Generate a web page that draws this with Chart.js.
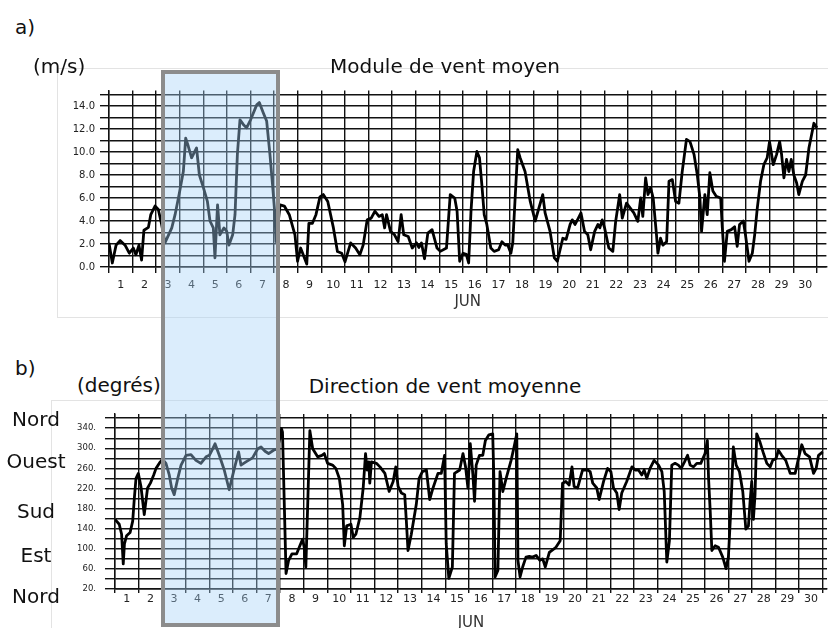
<!DOCTYPE html>
<html>
<head>
<meta charset="utf-8">
<script src="https://cdn.jsdelivr.net/npm/chart.js@4"></script>
<style>
  body { margin: 0; background: #fff; width: 828px; height: 628px; position: relative; overflow: hidden;
         font-family: "DejaVu Sans", sans-serif; color: #111; }
  .txt { position: absolute; font-size: 20px; line-height: 20px; white-space: nowrap; }
  .ctr { transform: translateX(-50%); }
  .frame { position: absolute; border: 1px solid #e3e3e3; border-right: none; }
  canvas { position: absolute; }
  #highlight { position: absolute; box-sizing: border-box; border: 4.5px solid #8c8c8c;
               background: rgba(165, 210, 248, 0.4); }
</style>
</head>
<body>
<div class="frame" style="left:57px; top:68px; width:771px; height:248px;"></div>
<div class="frame" style="left:51px; top:400px; width:777px; height:240px;"></div>

<canvas id="speed-chart" width="771" height="248" style="left:57px; top:68px;"></canvas>
<canvas id="dir-chart" width="777" height="233" style="left:51px; top:400px;"></canvas>

<div class="txt" style="left:15px; top:17px;">a)</div>
<div class="txt" style="left:33px; top:56px;">(m/s)</div>
<div class="txt ctr" style="left:445px; top:56px;">Module de vent moyen</div>

<div class="txt" style="left:15px; top:358px;">b)</div>
<div class="txt" style="left:77px; top:375px;">(degrés)</div>
<div class="txt ctr" style="left:445px; top:376px;">Direction de vent moyenne</div>

<div class="txt ctr" style="left:36px; top:409px;">Nord</div>
<div class="txt ctr" style="left:36px; top:451px;">Ouest</div>
<div class="txt ctr" style="left:36px; top:501px;">Sud</div>
<div class="txt ctr" style="left:36px; top:545px;">Est</div>
<div class="txt ctr" style="left:36px; top:586px;">Nord</div>

<div id="highlight"></div>

<script>
// a) wind speed (m/s), time in days since 1 June 00h
const speedDays = [0, 0.14, 0.3, 0.47, 0.68, 0.86, 1.03, 1.14, 1.27, 1.38, 1.48, 1.67, 1.77, 1.95, 2.09, 2.23, 2.37,
    2.66, 2.8, 2.97, 3.15, 3.25, 3.36, 3.5, 3.71, 3.83, 4.0, 4.17, 4.28, 4.42, 4.49, 4.6, 4.7, 4.87, 4.99,
    5.08, 5.24, 5.34, 5.44, 5.55, 5.69, 5.83, 6.0, 6.26, 6.37, 6.54, 6.68, 6.82, 6.94, 7.03, 7.08, 7.25,
    7.43, 7.64, 7.88, 7.99, 8.12, 8.23, 8.38, 8.47, 8.62, 8.77, 8.94, 9.08, 9.27, 9.51, 9.68, 9.86, 10.0,
    10.24, 10.45, 10.63, 10.77, 10.94, 11.11, 11.27, 11.44, 11.58, 11.68, 11.76, 11.93, 12.1, 12.25, 12.38,
    12.49, 12.68, 12.85, 13.03, 13.13, 13.24, 13.37, 13.51, 13.69, 13.9, 14.04, 14.3, 14.46, 14.65, 14.75,
    14.86, 15.0, 15.14, 15.24, 15.34, 15.45, 15.59, 15.7, 15.8, 15.9, 16.01, 16.18, 16.32, 16.51, 16.65,
    16.79, 16.9, 17.03, 17.11, 17.21, 17.32, 17.42, 17.63, 17.85, 18.06, 18.38, 18.48, 18.69, 18.87, 19.0,
    19.23, 19.37, 19.54, 19.63, 19.75, 19.89, 20.0, 20.15, 20.29, 20.41, 20.58, 20.72, 20.8, 20.9, 21.0,
    21.18, 21.35, 21.47, 21.64, 21.75, 21.93, 22.24, 22.41, 22.53, 22.62, 22.74, 22.84, 22.95, 23.06, 23.2,
    23.26, 23.37, 23.47, 23.63, 23.73, 23.87, 24.01, 24.15, 24.29, 24.47, 24.62, 24.79, 24.93, 25.04, 25.11,
    25.25, 25.35, 25.46, 25.59, 25.73, 25.92, 25.99, 26.08, 26.2, 26.37, 26.51, 26.62, 26.72, 26.88, 26.97,
    27.12, 27.26, 27.36, 27.47, 27.61, 27.75, 27.89, 27.99, 28.15, 28.29, 28.42, 28.5, 28.6, 28.71, 28.81,
    28.91, 29.02, 29.14, 29.23, 29.38, 29.52, 29.66, 29.87, 30.0];
const speedValues = [2.1, 0.35, 1.9, 2.3, 1.9, 1.2, 1.65, 1.07, 1.9, 0.6, 3.2, 3.45, 4.55, 5.3, 5.0, 3.7, 2.1,
    3.4, 4.55, 6.3, 8.3, 11.2, 10.5, 9.5, 10.35, 8.0, 6.9, 5.7, 4.0, 3.4, 0.8, 5.4, 2.8, 3.4, 3.1,
    1.9, 2.8, 4.55, 9.8, 12.8, 12.4, 12.1, 12.8, 14.1, 14.3, 13.4, 12.7, 9.8, 6.9, 4.55, 2.2, 5.4,
    5.3, 4.55, 2.8, 0.5, 1.65, 1.07, 0.25, 3.8, 3.8, 4.55, 6.1, 6.3, 5.7, 3.4, 1.35, 1.2, 0.45,
    2.1, 1.65, 1.07, 1.9, 4.1, 4.25, 4.85, 4.4, 4.55, 3.4, 4.55, 3.1, 2.8, 2.2, 4.55,
    2.8, 2.65, 1.65, 2.1, 1.7, 2.1, 0.72, 2.95, 3.25, 1.65, 1.36, 1.65, 6.3, 6.0, 4.85,
    0.5, 1.2, 1.1, 0.35, 4.85, 8.3, 10.05, 9.5, 7.15, 4.55, 3.7, 1.65, 1.36, 1.5, 2.2,
    1.9, 1.9, 1.2, 2.1, 6.0, 10.2, 9.5, 8.3, 5.7, 4.0, 6.3, 4.7, 3.1, 0.8, 0.5,
    2.5, 2.4, 3.7, 4.1, 3.7, 4.25, 4.7, 3.1, 2.8, 1.5, 3.1, 3.7, 3.4, 4.1, 3.4,
    1.65, 1.36, 3.97, 6.3, 4.25, 5.55, 4.7, 3.97, 6.0, 4.4, 7.75, 6.3, 6.9, 6.0, 2.8,
    1.2, 2.5, 1.9, 2.2, 7.45, 7.6, 5.7, 5.55, 8.3, 11.1, 10.9, 9.8, 8.0, 6.0, 3.1,
    6.3, 4.55, 8.2, 6.6, 6.15, 6.0, 3.4, 0.5, 3.1, 3.25, 3.5, 1.8, 3.7, 4.0, 2.8,
    0.5, 1.2, 2.8, 5.1, 7.45, 8.9, 9.5, 10.9, 8.9, 9.8, 10.9, 9.8, 7.75, 9.35, 8.3,
    9.35, 8.0, 7.3, 6.3, 7.45, 8.0, 10.35, 12.5, 12.1];

// b) wind direction (degrees)
const dirDays = [0, 0.18, 0.28, 0.35, 0.4, 0.49, 0.64, 0.75, 0.82, 0.89, 0.99, 1.1, 1.24, 1.38, 1.5, 1.64, 1.74,
    1.92, 2.02, 2.16, 2.3, 2.4, 2.51, 2.66, 2.8, 3.01, 3.22, 3.43, 3.64, 3.86, 4.0, 4.14, 4.24, 4.42, 4.63,
    4.84, 5.06, 5.24, 5.34, 5.55, 5.83, 6.05, 6.19, 6.36, 6.51, 6.72, 6.89, 6.96, 7.06, 7.1, 7.18, 7.25,
    7.36, 7.5, 7.7, 7.81, 7.95, 8.02, 8.09, 8.16, 8.26, 8.38, 8.59, 8.77, 8.87, 9.01, 9.22, 9.36, 9.51,
    9.65, 9.72, 9.82, 10.0, 10.1, 10.21, 10.38, 10.52, 10.62, 10.69, 10.76, 10.8, 10.87, 11.08, 11.23,
    11.44, 11.62, 11.79, 11.9, 12.0, 12.14, 12.28, 12.35, 12.42, 12.56, 12.77, 12.89, 13.03, 13.2, 13.34,
    13.48, 13.69, 13.83, 13.97, 14.04, 14.15, 14.3, 14.39, 14.61, 14.75, 14.86, 14.96, 15.06, 15.17, 15.24,
    15.31, 15.45, 15.59, 15.7, 15.85, 16.01, 16.06, 16.11, 16.23, 16.32, 16.44, 16.58, 16.79, 16.93, 17.03,
    17.08, 17.17, 17.28, 17.42, 17.56, 17.7, 17.85, 18.01, 18.13, 18.24, 18.41, 18.69, 18.87, 18.97, 19.11,
    19.25, 19.37, 19.46, 19.61, 19.82, 20.03, 20.14, 20.25, 20.42, 20.52, 20.71, 20.88, 21.02, 21.13, 21.27,
    21.37, 21.48, 21.69, 21.91, 22.05, 22.19, 22.33, 22.43, 22.54, 22.68, 22.85, 23.04, 23.18, 23.28, 23.39,
    23.5, 23.6, 23.74, 23.88, 24.0, 24.14, 24.27, 24.38, 24.52, 24.66, 24.83, 25.01, 25.11, 25.16, 25.23,
    25.3, 25.44, 25.58, 25.76, 25.9, 26.0, 26.1, 26.21, 26.33, 26.47, 26.61, 26.74, 26.85, 26.92, 26.99,
    27.06, 27.13, 27.2, 27.34, 27.49, 27.63, 27.77, 27.88, 28.02, 28.12, 28.26, 28.43, 28.62, 28.83, 28.97,
    29.11, 29.25, 29.44, 29.61, 29.72, 29.82, 30.0];
const dirValues = [158.6, 148.8, 129, 70, 109.6, 126, 132.5, 155, 201, 240, 250, 224, 168, 221, 230.6, 247, 260,
    273, 278, 270, 247, 221, 207.7, 240, 266.5, 286, 287.5, 276, 270, 283, 286, 299, 309, 286, 256.8,
    217.5, 260, 292.7, 266.5, 273, 281, 299, 302.5, 294, 289.5, 296, 299, 315.6, 338.5, 332, 181.5, 50.7,
    77, 90, 90, 103, 119, 103, 63.8, 175, 335, 299, 283, 286, 289.5, 270, 266.5, 260, 240,
    188, 106, 145.6, 148.8, 122.7, 129, 162, 221, 289.5, 256.8, 273, 230.6, 273, 270, 263,
    250, 214, 234, 263, 224, 211, 207.7, 155, 96.5, 129, 188, 240, 253.5, 256.8, 198,
    221, 250, 250, 286, 109.6, 41, 63.8, 250, 256.8, 289.5, 263, 221, 309, 247, 194.6,
    266.5, 286, 286, 315.6, 326.7, 328.7, 240, 44, 57, 253.5, 214, 240, 276, 305.8, 328.7,
    77, 44, 63.8, 83.4, 84.7, 83.4, 86.7, 77, 80, 63.8, 93, 103, 116, 230.6, 234,
    227, 263, 224, 221, 256.8, 256.8, 253.5, 230.6, 221, 198, 234, 260, 253.5, 221, 211,
    178, 211, 234, 263, 256.8, 256.8, 247, 256.8, 240, 260, 276, 266.5, 253.5, 214, 73.6,
    116, 266.5, 270, 266.5, 260, 273, 286, 266.5, 263, 270, 270, 289.5, 315.6, 240, 175,
    96.5, 106, 103, 83.4, 60.5, 83.4, 175, 302.5, 266.5, 253.5, 214, 139, 145.6, 194.6, 234,
    158.6, 207.7, 328.7, 312.3, 289.5, 270, 263, 276, 279.6, 296, 286, 276, 250, 250, 279.6,
    307, 289.5, 283, 250, 260, 286, 292.7];

const dayCount = 30;
const highlightDays = [2.3, 7.15];

function makePoints(days, values) {
    return days.map((d, i) => ({ x: d, y: values[i] }));
}

function panelChart(canvasId, cfg) {
    return new Chart(document.getElementById(canvasId).getContext('2d'), {
        type: 'line',
        data: {
            datasets: [{
                data: makePoints(cfg.days, cfg.values),
                borderColor: '#000',
                borderWidth: 2.8,
                borderJoinStyle: 'round',
                pointRadius: 0,
                tension: 0
            }]
        },
        options: {
            responsive: false,
            animation: false,
            devicePixelRatio: 1,
            layout: { padding: cfg.padding },
            plugins: { legend: { display: false }, tooltip: { enabled: false } },
            scales: {
                x: {
                    type: 'linear',
                    min: 0,
                    max: cfg.xMax,
                    grid: { color: '#111', lineWidth: 1.4, tickLength: cfg.xTickLen, tickColor: '#111' },
                    border: { color: '#111', width: 1.4 },
                    ticks: {
                        stepSize: 1,
                        includeBounds: false,
                        maxTicksLimit: 100,
                        autoSkip: false,
                        maxRotation: 0,
                        labelOffset: 11.8,
                        padding: cfg.xPad,
                        color: '#222',
                        font: { family: 'DejaVu Sans', size: 11 },
                        callback: v => (v < dayCount ? String(v + 1) : '')
                    },
                    title: {
                        display: true,
                        text: 'JUN',
                        color: '#333',
                        font: { family: 'DejaVu Sans', size: 15 },
                        padding: { top: 0, bottom: cfg.titlePad }
                    },
                    afterFit: s => { s.height = cfg.xHeight; }
                },
                y: {
                    min: cfg.yMin,
                    max: cfg.yMax,
                    grid: { color: '#111', lineWidth: 1.4, tickLength: cfg.yTickLen, tickColor: '#111' },
                    border: { color: '#111', width: 1.4 },
                    ticks: {
                        stepSize: cfg.yStep,
                        includeBounds: false,
                        maxTicksLimit: 100,
                        autoSkip: false,
                        padding: cfg.yPad,
                        color: '#222',
                        font: { family: 'DejaVu Sans', size: cfg.yFontSize },
                        callback: cfg.yLabel
                    },
                    afterFit: s => { s.width = cfg.yWidth; }
                }
            }
        }
    });
}

const speedChart = panelChart('speed-chart', {
    days: speedDays, values: speedValues,
    padding: { top: 22.5, right: 1.6, left: 0, bottom: 0 },
    xMax: 30.4, xHeight: 49, xTickLen: 6, xPad: 6, titlePad: 5,
    yMin: 0, yMax: 15.35, yStep: 1, yTickLen: 9, yPad: 5, yWidth: 52, yFontSize: 10,
    yLabel: v => (v % 2 === 0 ? v.toFixed(1) : '')
});

panelChart('dir-chart', {
    days: dirDays, values: dirValues,
    padding: { top: 11.7, right: 1, left: 0, bottom: 0 },
    xMax: 30.18, xHeight: 44, xTickLen: 4, xPad: 0, titlePad: 1,
    yMin: 20, yMax: 368, yStep: 20, yTickLen: 10, yPad: 9, yWidth: 64, yFontSize: 8.5,
    yLabel: v => ((v - 20) % 40 === 0 ? v + '.' : '')
});

// highlighted period, placed from the speed chart's time axis
const xs = speedChart.scales.x;
const hl = document.getElementById('highlight');
const hlLeft = 57 + xs.getPixelForValue(highlightDays[0]) - 2.25;
const hlRight = 57 + xs.getPixelForValue(highlightDays[1]) + 2.25;
hl.style.left = hlLeft + 'px';
hl.style.width = (hlRight - hlLeft) + 'px';
hl.style.top = '70px';
hl.style.height = '557px';
</script>
</body>
</html>
